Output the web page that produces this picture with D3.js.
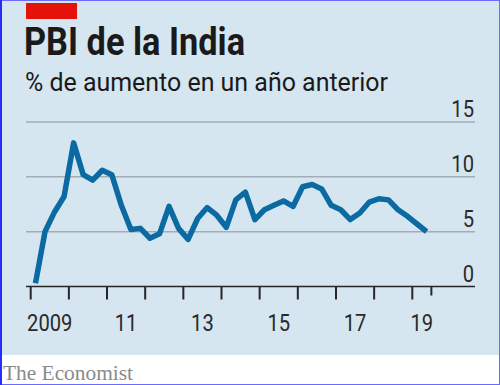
<!DOCTYPE html>
<html>
<head>
<meta charset="utf-8">
<script src="https://cdn.jsdelivr.net/npm/d3@7/dist/d3.min.js"></script>
<style>
  html, body { margin: 0; padding: 0; background: #fff; }
  svg { display: block; }
</style>
</head>
<body>
<svg id="chart" width="500" height="385"></svg>
<script>
// ---- Data (quarterly GDP growth, % y/y, 2009 Q1 – 2019 Q2) ----
const startYear = 2009;
const growth = [
  0.3, 5.0, 6.8, 8.2,      // 2009
  13.1, 10.2, 9.7, 10.6,   // 2010
  10.2, 7.4, 5.2, 5.3,     // 2011
  4.4, 4.8, 7.3, 5.3,      // 2012
  4.3, 6.2, 7.2, 6.5,      // 2013
  5.4, 7.9, 8.6, 6.1,      // 2014
  7.0, 7.4, 7.8, 7.3,      // 2015
  9.1, 9.3, 8.9, 7.4,      // 2016
  7.0, 6.1, 6.7, 7.7,      // 2017
  8.0, 7.9, 7.0, 6.4,      // 2018
  5.7, 5.0                 // 2019
];
const yTicks = [0, 5, 10, 15];
const xTickYears = [2009, 2010, 2011, 2012, 2013, 2014, 2015, 2016, 2017, 2018, 2019, 2019.5];
const xLabelYears = [2009, 2011, 2013, 2015, 2017, 2019];
const xLabelText = ["2009", "11", "13", "15", "17", "19"];
const title = "PBI de la India";
const subtitle = "% de aumento en un año anterior";
const source = "The Economist";

// ---- Layout ----
const svg = d3.select("#chart");
const W = 500, H = 385;
const plotLeft = 26, plotRight = 475;

const x = d3.scaleLinear().domain([2009, 2019]).range([30.7, 412.3]);
const y = d3.scaleLinear().domain([0, 15]).range([286.5, 122]);

// background
svg.append("rect").attr("x", 0).attr("y", 0).attr("width", W).attr("height", 355)
  .attr("fill", "#d6e6f0");
svg.append("rect").attr("x", 0).attr("y", 355).attr("width", W).attr("height", 30)
  .attr("fill", "#ffffff");

// red tag
svg.append("rect").attr("x", 26).attr("y", 3).attr("width", 51).attr("height", 16)
  .attr("fill", "#e3120b");

// title & subtitle
svg.append("text").attr("x", 24).attr("y", 55)
  .attr("font-family", "Roboto, 'Open Sans', sans-serif")
  .attr("font-weight", 700).attr("font-size", 39)
  .attr("fill", "#1a1a1a")
  .attr("textLength", 221).attr("lengthAdjust", "spacingAndGlyphs")
  .text(title);

svg.append("text").attr("x", 25).attr("y", 91)
  .attr("font-family", "Roboto, 'Open Sans', sans-serif")
  .attr("font-weight", 400).attr("font-size", 25)
  .attr("fill", "#1a1a1a")
  .attr("textLength", 363).attr("lengthAdjust", "spacingAndGlyphs")
  .text(subtitle);

// gridlines
svg.append("g").selectAll("line").data(yTicks.filter(d => d !== 0)).join("line")
  .attr("x1", plotLeft).attr("x2", plotRight)
  .attr("y1", d => y(d)).attr("y2", d => y(d))
  .attr("stroke", "#a3adb5").attr("stroke-width", 1.5);

// y labels
const yl = svg.append("g").selectAll("text").data(yTicks).join("text")
  .attr("x", 474).attr("y", d => y(d) - 5)
  .attr("text-anchor", "end")
  .attr("font-family", "Roboto, sans-serif").attr("font-weight", 400)
  .attr("font-size", 24).attr("fill", "#2a2a2a")
  .text(d => d);

// line
const line = d3.line()
  .x((d, i) => x(startYear + (i + 0.5) / 4))
  .y(d => y(d));
svg.append("path").datum(growth)
  .attr("d", line)
  .attr("fill", "none")
  .attr("stroke", "#0b6aa2")
  .attr("stroke-width", 5.5)
  .attr("stroke-linejoin", "round");

// baseline
svg.append("line").attr("x1", plotLeft).attr("x2", plotRight)
  .attr("y1", y(0)).attr("y2", y(0))
  .attr("stroke", "#262626").attr("stroke-width", 1.6);

// x ticks
svg.append("g").selectAll("line").data(xTickYears).join("line")
  .attr("x1", d => x(d)).attr("x2", d => x(d))
  .attr("y1", y(0)).attr("y2", d => d === 2019.5 ? y(0) + 9 : y(0) + 13)
  .attr("stroke", "#262626").attr("stroke-width", 2);

// x labels (centred in year interval)
const xl = svg.append("g").selectAll("text").data(xLabelYears).join("text")
  .attr("x", d => (x(d) + x(d === 2019 ? 2019.5 : d + 1)) / 2)
  .attr("y", 331)
  .attr("text-anchor", "middle")
  .attr("font-family", "Roboto, sans-serif").attr("font-weight", 400)
  .attr("font-size", 24).attr("fill", "#2a2a2a")
  .text((d, i) => xLabelText[i]);

// condense tick labels slightly
[yl, xl].forEach(sel => sel.each(function () {
  const n = this.getComputedTextLength();
  d3.select(this).attr("textLength", n * 0.84).attr("lengthAdjust", "spacingAndGlyphs");
}));

// source
svg.append("text").attr("x", 3).attr("y", 380)
  .attr("font-family", "'Liberation Serif', 'DejaVu Serif', serif")
  .attr("font-size", 21).attr("fill", "#8a8a8a")
  .attr("textLength", 130).attr("lengthAdjust", "spacingAndGlyphs")
  .text(source);

// frame
svg.append("rect").attr("x", 0.5).attr("y", 0.5).attr("width", W - 1).attr("height", H - 1)
  .attr("fill", "none").attr("stroke", "#6a6aff").attr("stroke-width", 1);
svg.append("line").attr("x1", 1).attr("x2", 1).attr("y1", 0).attr("y2", H)
  .attr("stroke", "#2a2aff").attr("stroke-width", 2);
</script>
</body>
</html>
